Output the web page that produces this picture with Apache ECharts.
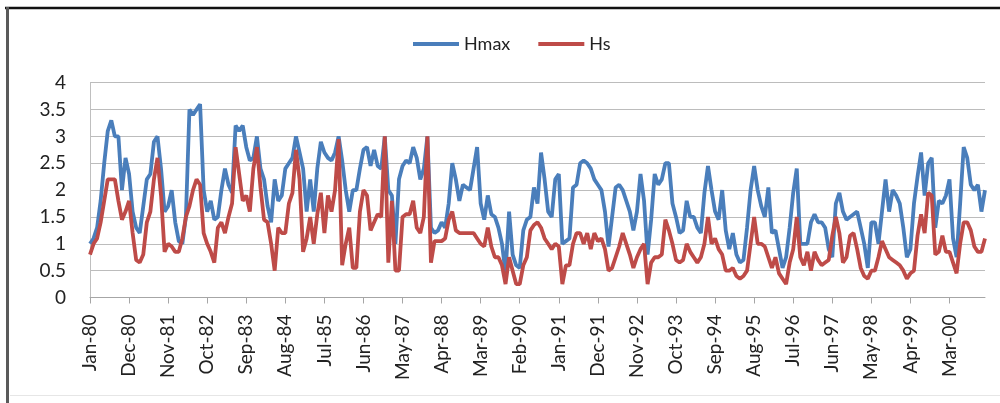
<!DOCTYPE html>
<html>
<head>
<meta charset="utf-8">
<script src="https://cdn.jsdelivr.net/npm/echarts@6/dist/echarts.min.js"></script>
<style>
  html, body { margin: 0; padding: 0; background: #ffffff; }
  #chart { width: 1000px; height: 403px; }
</style>
</head>
<body>
<div id="chart"></div>
<script>
// Monthly wave heights (m), Jan-1980 onwards
const monthNames = ['Jan','Feb','Mar','Apr','May','Jun','Jul','Aug','Sep','Oct','Nov','Dec'];
const startYear = 1980;
const monthCount = 253;

const hmax = [
  1.0,1.1,1.3,1.8,2.5,3.1,3.3,3.0,3.0,2.0,
  2.6,2.3,1.6,1.3,1.2,1.7,2.2,2.3,2.9,3.0,
  2.4,1.6,1.7,2.0,1.4,1.05,1.0,1.5,3.5,3.4,
  3.5,3.6,2.0,1.6,1.8,1.45,1.5,2.0,2.4,2.1,
  1.95,3.2,3.1,3.2,2.8,2.55,2.6,3.0,2.4,2.2,
  1.7,1.4,2.2,1.8,1.9,2.4,2.5,2.6,3.0,2.7,
  2.4,1.6,2.2,1.6,2.4,2.9,2.7,2.6,2.55,2.7,
  3.0,2.55,2.0,1.6,2.0,2.0,2.4,2.75,2.8,2.45,
  2.75,2.45,2.4,3.0,2.0,1.9,1.0,2.2,2.45,2.55,
  2.5,2.8,2.6,2.2,2.4,3.0,1.3,1.2,1.25,1.4,
  1.3,1.75,2.5,2.2,1.8,2.1,2.05,2.0,2.4,2.8,
  1.75,1.45,1.9,1.55,1.5,1.3,1.0,0.45,1.6,0.8,
  0.6,0.55,1.25,1.45,1.5,2.05,1.75,2.7,2.2,1.6,
  1.5,2.2,2.3,1.0,1.05,1.1,2.05,2.1,2.5,2.55,
  2.5,2.4,2.2,2.1,2.0,1.6,0.95,1.5,2.05,2.1,
  2.0,1.8,1.6,1.25,1.6,2.3,1.8,0.8,1.45,2.3,
  2.1,2.2,2.5,2.5,1.75,1.5,1.2,1.25,1.8,1.5,
  1.5,1.3,1.2,1.95,2.45,2.0,1.6,1.45,2.0,1.25,
  0.9,1.2,0.8,0.65,0.7,1.3,2.0,2.45,2.0,1.7,
  1.5,2.05,1.2,1.25,0.9,0.55,0.75,1.3,1.95,2.4,
  1.0,1.0,1.0,1.4,1.55,1.4,1.4,1.3,0.9,0.75,
  1.75,1.95,1.6,1.45,1.5,1.55,1.6,1.3,1.0,0.55,
  1.4,1.4,1.0,1.6,2.2,1.6,2.0,1.9,1.75,1.3,
  0.75,0.9,1.75,2.25,2.7,1.9,2.5,2.6,1.3,1.8,
  1.75,1.9,2.2,1.1,0.75,1.75,2.8,2.6,2.1,2.0,
  2.1,1.6,2.0
];

const hs = [
  0.8,1.0,1.1,1.4,1.8,2.2,2.2,2.2,1.8,1.45,
  1.6,1.8,1.2,0.7,0.65,0.8,1.4,1.6,2.2,2.6,
  1.9,0.85,1.0,0.95,0.85,0.85,1.1,1.5,1.7,2.0,
  2.2,2.1,1.2,1.0,0.85,0.65,1.3,1.4,1.2,1.5,
  1.75,2.8,2.3,1.8,1.9,1.6,2.4,2.8,2.05,1.45,
  1.4,1.0,0.5,1.3,1.2,1.2,1.75,1.95,2.75,2.2,
  0.85,1.1,1.5,1.0,1.55,1.95,1.2,1.9,1.6,2.0,
  2.95,0.6,1.0,1.3,0.55,0.55,1.6,2.0,1.9,1.25,
  1.4,1.55,1.5,3.0,0.65,1.8,0.5,0.5,1.5,1.55,
  1.55,1.8,1.3,1.2,1.5,3.0,0.65,1.05,1.05,1.05,
  1.1,1.45,1.6,1.25,1.2,1.2,1.2,1.2,1.2,1.1,
  1.0,0.95,1.3,0.95,0.75,0.75,0.6,0.25,0.75,0.5,
  0.25,0.25,0.6,0.75,1.25,1.35,1.4,1.3,1.1,1.0,
  0.9,1.0,0.95,0.25,0.6,0.6,1.0,1.2,1.2,1.0,
  1.2,0.9,1.2,1.05,1.1,0.9,0.5,0.55,0.75,0.95,
  1.2,1.0,0.8,0.55,0.75,0.9,1.0,0.25,0.65,0.75,
  0.75,0.8,1.45,1.25,1.0,0.7,0.65,0.7,1.0,0.85,
  0.75,0.65,0.75,1.0,1.5,1.0,1.1,0.9,0.8,0.5,
  0.5,0.55,0.4,0.35,0.4,0.5,1.0,1.5,1.0,1.0,
  0.95,0.75,0.55,0.75,0.45,0.35,0.25,0.65,0.9,1.5,
  0.75,0.6,0.85,0.5,0.85,0.7,0.6,0.65,0.7,1.15,
  1.5,1.2,0.65,0.75,1.15,1.2,0.9,0.55,0.4,0.35,
  0.5,0.5,0.75,1.05,0.9,0.75,0.7,0.65,0.6,0.5,
  0.35,0.45,0.5,1.15,1.55,1.2,1.95,1.9,0.8,0.85,
  1.15,0.85,0.85,0.65,0.45,1.0,1.4,1.4,1.25,0.95,
  0.85,0.85,1.1
];

// Category labels such as "Jan-80"
const categories = [];
for (let i = 0; i < monthCount; i++) {
  const y = startYear + Math.floor(i / 12);
  categories.push(monthNames[i % 12] + '-' + String(y % 100).padStart(2, '0'));
}

const yTicks = { min: 0, max: 4, interval: 0.5 };
const labelFont = 'Lato, "Liberation Sans", Arial, sans-serif';

const chart = echarts.init(document.getElementById('chart'), null, { renderer: 'canvas' });
chart.setOption({
  animation: false,
  backgroundColor: '#ffffff',
  color: ['#4A7EBB', '#BE4B48'],
  legend: {
    left: 408,
    top: 30,
    icon: 'rect',
    itemWidth: 46,
    itemHeight: 4,
    itemGap: 28,
    textStyle: { fontFamily: labelFont, fontSize: 18, color: '#222' },
    data: ['Hmax', 'Hs']
  },
  grid: { left: 90, right: 15, top: 82.7, bottom: 105.5, containLabel: false },
  xAxis: {
    type: 'category',
    data: categories,
    boundaryGap: false,
    axisLine: { lineStyle: { color: '#a6a6a6', width: 1 } },
    axisTick: { interval: 10, length: 6, lineStyle: { color: '#a6a6a6' } },
    axisLabel: {
      interval: 10,
      rotate: 90,
      margin: 17,
      fontFamily: labelFont,
      fontSize: 19,
      color: '#222'
    },
    splitLine: { show: false }
  },
  yAxis: {
    type: 'value',
    min: yTicks.min,
    max: yTicks.max,
    interval: yTicks.interval,
    axisLine: { show: true, lineStyle: { color: '#bfbfbf', width: 1 } },
    axisTick: { show: false },
    axisLabel: {
      margin: 24,
      fontFamily: labelFont,
      fontSize: 19,
      color: '#222'
    },
    splitLine: { lineStyle: { color: '#bcbcbc', width: 1.2 } }
  },
  series: [
    {
      name: 'Hmax',
      type: 'line',
      data: hmax,
      showSymbol: false,
      smooth: false,
      lineStyle: { width: 3.8, color: '#4A7EBB' },
      z: 2
    },
    {
      name: 'Hs',
      type: 'line',
      data: hs,
      showSymbol: false,
      smooth: false,
      lineStyle: { width: 3.8, color: '#BE4B48' },
      z: 3
    }
  ],
  graphic: [
    { type: 'line', shape: { x1: 5, y1: 8, x2: 1000, y2: 8 }, style: { stroke: '#111', lineWidth: 2.5 }, silent: true },
    { type: 'line', shape: { x1: 7.5, y1: 7, x2: 7.5, y2: 403 }, style: { stroke: '#5a5a5a', lineWidth: 3 }, silent: true },
    { type: 'line', shape: { x1: 10, y1: 395.5, x2: 1000, y2: 395.5 }, style: { stroke: '#e6e6e6', lineWidth: 1 }, silent: true }
  ]
});
</script>
</body>
</html>
